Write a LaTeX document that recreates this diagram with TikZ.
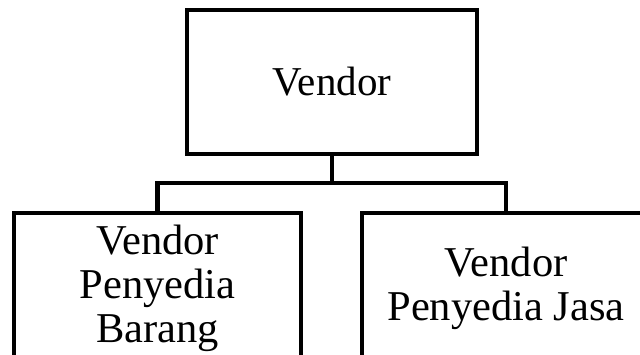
\documentclass[tikz,border=0pt]{standalone}
\usepackage{fontspec}
\setmainfont{Liberation Serif}
% centred lines of text, lowered by #1 without changing the box size
\newcommand{\boxlines}[2][0pt]{\raisebox{#1}[\height][\depth]{\begin{tabular}{@{}c@{}}#2\end{tabular}}}
\begin{document}
\begin{tikzpicture}[x=1pt,y=-1pt,
  orgbox/.style={draw=black, line width=4.4pt, rectangle, inner sep=0pt,
    align=center, minimum height=144pt},
  topfont/.style={font=\fontsize{41}{44}\selectfont},
  childfont/.style={font=\fontsize{42.5}{44}\selectfont},
  link/.style={draw=black, line width=4.4pt}]
  \useasboundingbox (0,0) rectangle (640,355);
  \clip (0,0) rectangle (640,355);
  % parent unit
  \node[orgbox, topfont, minimum width=290pt] (vendor) at (332,82) {Vendor};
  % child units (their lower edges sit on the page edge)
  \node[orgbox, childfont, minimum width=287pt] (barang) at (157.5,285)
    {\boxlines[-5pt]{Vendor\\Penyedia\\Barang}};
  \node[orgbox, childfont, minimum width=288pt] (jasa) at (506,285)
    {\boxlines[-5pt]{Vendor\\Penyedia Jasa}};
  % tree connectors
  \coordinate (bus) at (332,183);
  \draw[link] (vendor.south) -- (bus);
  \draw[link] (barang.north) |- (bus) -| (jasa.north);
\end{tikzpicture}
\end{document}
